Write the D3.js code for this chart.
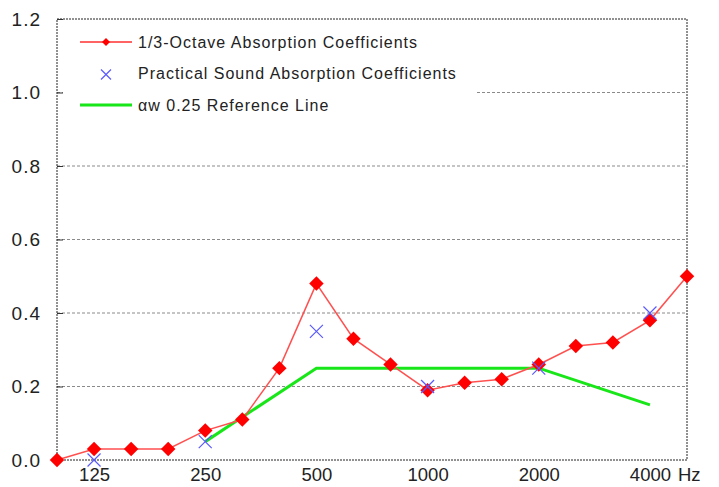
<!DOCTYPE html>
<html>
<head>
<meta charset="utf-8">
<script src="https://cdn.jsdelivr.net/npm/d3@7"></script>
<style>
  body { margin: 0; background: #fff; }
  text { font-family: "Liberation Sans", Arial, sans-serif; }
</style>
</head>
<body>
<div id="chart"></div>
<script>

// 1/3-octave bands, Hz
var bands = ["100", "125", "160", "200", "250", "315", "400", "500", "630", "800",
             "1000", "1250", "1600", "2000", "2500", "3150", "4000", "5000"];
var thirdOctave = [0.00, 0.03, 0.03, 0.03, 0.08, 0.11, 0.25, 0.48, 0.33, 0.26,
                   0.19, 0.21, 0.22, 0.26, 0.31, 0.32, 0.38, 0.50];

// octave bands
var octaves = ["125", "250", "500", "1000", "2000", "4000"];
var practical = [0.00, 0.05, 0.35, 0.20, 0.25, 0.40];

// reference curve (shifted)
var refBands = ["250", "500", "1000", "2000", "4000"];
var refValues = [0.05, 0.25, 0.25, 0.25, 0.15];

var yTicks = [0, 0.2, 0.4, 0.6, 0.8, 1.0, 1.2];
var legendKeys = ["1/3-Octave Absorption Coefficients",
                  "Practical Sound Absorption Coefficients",
                  "\u03b1w 0.25 Reference Line"];

var makeChart = function() {

    //Width and Height
    var w = 719;
    var h = 487;
    var margin = {top: 19, right: 32, bottom: 27, left: 57};

    var x = d3.scalePoint()
        .domain(bands)
        .range([margin.left, w - margin.right]);

    var y = d3.scaleLinear()
        .domain([0, 1.2])
        .range([h - margin.bottom, margin.top]);

    var chart = d3.select("#chart")
        .append("svg")
        .attr("width", w)
        .attr("height", h);

    //Horizontal grid lines
    chart.append("g")
        .attr("class", "grid")
        .selectAll("line")
        .data(yTicks.filter(d => d > 0 && d < 1.2))
        .enter()
        .append("line")
        .attr("x1", margin.left)
        .attr("x2", w - margin.right)
        .attr("y1", d => y(d))
        .attr("y2", d => y(d))
        .style("stroke", "#8a8a8a")
        .style("stroke-width", 1)
        .style("stroke-dasharray", "3,2");

    //Legend background covers the grid
    chart.append("rect")
        .attr("x", margin.left + 6)
        .attr("y", margin.top + 2)
        .attr("width", 476 - margin.left - 6)
        .attr("height", 100)
        .style("fill", "white");

    //Plot border
    chart.append("rect")
        .attr("x", margin.left)
        .attr("y", margin.top)
        .attr("width", w - margin.left - margin.right)
        .attr("height", h - margin.top - margin.bottom)
        .style("fill", "none")
        .style("stroke", "#222")
        .style("stroke-width", 1)
        .style("stroke-dasharray", "2,1");

    //Y axis
    var yAxis = chart.append("g")
        .attr("transform", "translate(" + margin.left + ",0)")
        .call(d3.axisLeft(y).tickValues(yTicks).tickFormat(d3.format(".1f")).tickSizeInner(-6).tickSizeOuter(0).tickPadding(16));
    yAxis.select(".domain").remove();
    yAxis.selectAll(".tick line").style("stroke", "#333");
    yAxis.selectAll("text")
        .style("font-size", "19px")
        .style("letter-spacing", "1px")
        .style("fill", "#222");

    //X axis
    var xAxis = chart.append("g")
        .attr("transform", "translate(0," + (h - margin.bottom) + ")")
        .call(d3.axisBottom(x).tickValues(octaves).tickSize(0).tickPadding(8));
    xAxis.select(".domain").remove();
    xAxis.selectAll("text")
        .style("font-size", "18.5px")
        .style("fill", "#222");

    chart.append("text")
        .attr("x", x("4000") + 28)
        .attr("y", h - margin.bottom + 8)
        .attr("dy", "0.71em")
        .style("font-size", "18.5px")
        .style("fill", "#222")
        .text("Hz");

    //Reference line
    var refLine = d3.line()
        .x((d, i) => x(refBands[i]))
        .y(d => y(d));

    chart.append("path")
        .datum(refValues)
        .attr("d", refLine)
        .style("fill", "none")
        .style("stroke", "#19e619")
        .style("stroke-width", 3);

    //1/3-octave line and diamonds
    var line = d3.line()
        .x((d, i) => x(bands[i]))
        .y(d => y(d));

    chart.append("path")
        .datum(thirdOctave)
        .attr("d", line)
        .style("fill", "none")
        .style("stroke", "#ff5050")
        .style("stroke-width", 1.5);

    var diamond = d3.symbol().type(d3.symbolSquare).size(105);

    chart.append("g")
        .selectAll("path")
        .data(thirdOctave)
        .enter()
        .append("path")
        .attr("d", diamond)
        .attr("transform", (d, i) => "translate(" + x(bands[i]) + "," + y(d) + ") rotate(45)")
        .style("fill", "#ff0000");

    //Practical coefficients as crosses
    var cross = 6.5;
    chart.append("g")
        .selectAll("path")
        .data(practical)
        .enter()
        .append("path")
        .attr("d", (d, i) => {
            var cx = x(octaves[i]), cy = y(d);
            return "M" + (cx - cross) + "," + (cy - cross) + "L" + (cx + cross) + "," + (cy + cross)
                 + "M" + (cx - cross) + "," + (cy + cross) + "L" + (cx + cross) + "," + (cy - cross);
        })
        .style("stroke", "#5a5aff")
        .style("stroke-width", 1.2)
        .style("fill", "none");

    //Legend
    var lgLeft = 80;
    var lgTop = 42;
    var lgSpacing = 31.5;
    var legend = chart.append("g").attr("class", "legend");

    legend.append("line")
        .attr("x1", lgLeft).attr("x2", lgLeft + 52)
        .attr("y1", lgTop).attr("y2", lgTop)
        .style("stroke", "#ff3030")
        .style("stroke-width", 1.5);
    legend.append("path")
        .attr("d", d3.symbol().type(d3.symbolSquare).size(32))
        .attr("transform", "translate(" + (lgLeft + 26) + "," + lgTop + ") rotate(45)")
        .style("fill", "#ff0000");

    var c = 5, lx = lgLeft + 26, ly = lgTop + lgSpacing + 1;
    legend.append("path")
        .attr("d", "M" + (lx - c) + "," + (ly - c) + "L" + (lx + c) + "," + (ly + c)
                 + "M" + (lx - c) + "," + (ly + c) + "L" + (lx + c) + "," + (ly - c))
        .style("stroke", "#5a5aff")
        .style("stroke-width", 1.2);

    legend.append("line")
        .attr("x1", lgLeft).attr("x2", lgLeft + 52)
        .attr("y1", lgTop + 2 * lgSpacing).attr("y2", lgTop + 2 * lgSpacing)
        .style("stroke", "#19e619")
        .style("stroke-width", 3);

    legend.selectAll("text")
        .data(legendKeys)
        .enter()
        .append("text")
        .attr("x", lgLeft + 58)
        .attr("y", (d, i) => lgTop + i * lgSpacing)
        .attr("dy", "0.35em")
        .style("font-size", "16px")
        .style("letter-spacing", "1px")
        .style("fill", "#222")
        .text(d => d);
}

makeChart();
</script>
</body>
</html>
